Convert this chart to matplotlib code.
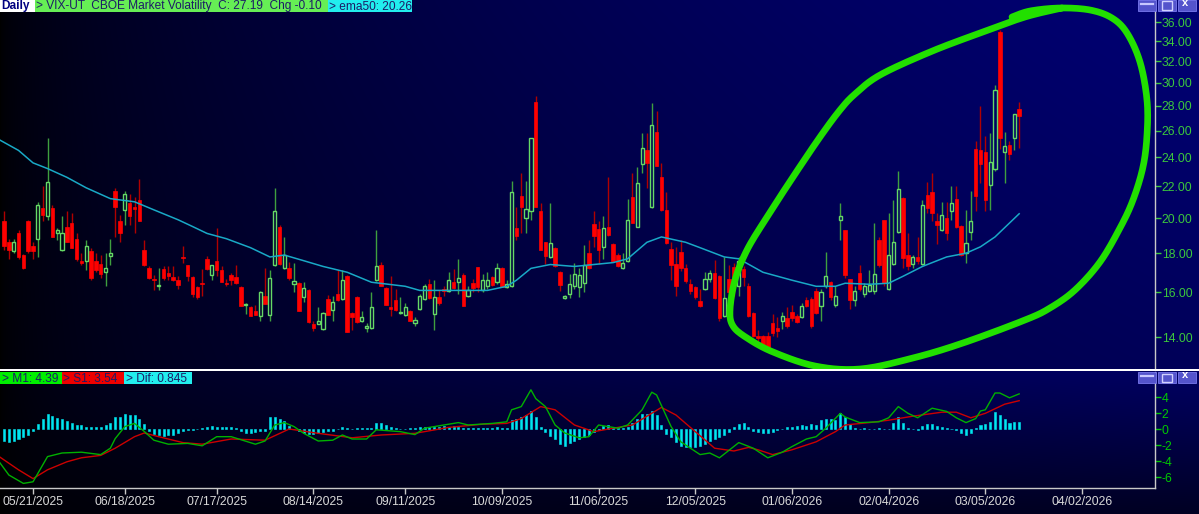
import matplotlib.pyplot as plt
import numpy as np
from matplotlib.patches import Rectangle
from matplotlib.ticker import FixedLocator, NullLocator

plt.rcParams["font.family"] = ["Liberation Sans", "DejaVu Sans"]

# ---- data: daily VIX candles, bar index 0 = 05/21/2025 (trading days) ----
FIRST_BAR = -6
OPEN = [
    19.8, 18.6, 18.1, 19.1, 17.9, 19.8, 18.4, 18.8, 20.6, 20.1,
    20.6, 19.15, 18.2, 19.5, 19.7, 18.8, 17.6, 17.6, 18.1, 17.6,
    17.45, 17.0, 17.85, 21.7, 19.8, 20.5, 20.9, 20.65, 21.1, 18.2,
    17.2, 16.65, 16.3, 17.15, 16.95, 16.75, 16.6, 17.8, 17.4, 16.75,
    16.25, 16.45, 17.7, 16.85, 17.6, 17.1, 16.45, 16.85, 16.75, 16.25,
    15.4, 15.3, 15.15, 14.9, 15.85, 14.95, 17.35, 19.5, 17.2, 17.2,
    16.4, 16.45, 15.8, 16.1, 14.55, 14.55, 14.35, 15.7, 15.2, 15.95,
    15.7, 16.8, 15.05, 15.8, 14.7, 14.4, 14.4, 16.6, 17.4, 16.2,
    15.3, 15.65, 15.05, 14.95, 15.15, 14.6, 15.25, 15.7, 16.4, 15.0,
    15.8, 16.15, 16.05, 16.5, 16.5, 16.85, 15.85, 16.45, 17.25, 16.1,
    16.3, 16.75, 16.5, 17.2, 16.25, 16.3, 19.4, 21.35, 20.0, 20.4,
    28.35, 20.45, 18.6, 17.8, 18.3, 17.0, 15.75, 15.95, 16.3, 16.25,
    16.45, 18.0, 19.65, 19.35, 18.35, 19.45, 18.5, 17.9, 17.2, 17.6,
    21.3, 19.5, 23.5, 24.5, 20.7, 25.9, 22.6, 20.5, 18.25, 17.45,
    18.05, 17.2, 16.4, 16.25, 15.6, 16.15, 16.65, 16.95, 16.8, 14.9,
    16.65, 17.25, 16.3, 17.15, 16.3, 15.05, 14.05, 14.05, 14.05, 14.6,
    14.4, 14.7, 14.8, 15.1, 14.9, 14.85, 15.65, 15.7, 16.05, 15.35,
    16.3, 16.5, 15.4, 19.9, 19.3, 16.65, 15.65, 16.95, 15.95, 16.05,
    16.05, 18.7, 19.9, 16.15, 17.45, 19.2, 21.25, 17.9, 17.45, 17.8,
    17.45, 21.45, 21.65, 19.8, 19.3, 20.0, 20.4, 21.2, 19.55, 18.0,
    19.2, 24.6, 24.55, 24.4, 22.1, 23.2, 34.9, 24.4, 24.9, 25.4,
    27.75,
]
HIGH = [
    20.4, 18.8, 18.8, 19.3, 17.95, 19.9, 18.6, 21.0, 22.0, 25.4,
    20.8, 19.4, 20.1, 20.4, 20.3, 19.1, 18.0, 18.7, 18.3, 18.0,
    17.9, 18.0, 18.8, 21.9, 20.2, 21.7, 21.5, 21.3, 22.5, 18.7,
    17.3, 16.85, 17.2, 17.3, 17.3, 17.3, 16.8, 18.4, 17.4, 16.8,
    16.3, 17.15, 17.85, 17.4, 19.4, 17.3, 16.65, 16.95, 17.4, 16.3,
    15.5, 15.35, 15.4, 16.05, 17.2, 17.1, 21.9, 19.6, 18.9, 17.55,
    17.5, 16.5, 16.5, 16.15, 14.7, 15.3, 15.1, 15.9, 15.85, 17.1,
    17.1, 16.85, 15.1, 15.85, 15.15, 14.6, 16.0, 19.3, 17.55, 16.25,
    16.8, 16.15, 15.8, 15.5, 15.2, 14.85, 15.95, 16.4, 16.65, 16.6,
    16.1, 16.3, 17.0, 17.15, 17.7, 16.95, 16.3, 16.65, 17.25, 16.9,
    17.0, 16.8, 17.5, 17.25, 16.6, 22.35, 20.7, 22.9, 22.35, 25.45,
    28.85, 20.9, 18.6, 20.9, 18.35, 17.05, 15.9, 16.9, 17.5, 17.2,
    18.45, 18.7, 20.4, 19.85, 20.1, 22.6, 18.55, 18.0, 18.0, 21.2,
    22.9, 23.3, 25.8, 25.8, 28.2, 27.6, 23.6, 21.6, 18.6, 18.35,
    18.7, 17.45, 16.65, 16.3, 16.15, 17.0, 17.1, 17.65, 16.85, 17.8,
    17.35, 17.5, 17.8, 17.3, 16.45, 15.1, 14.3, 14.1, 14.2, 15.0,
    14.85, 15.1, 15.3, 15.4, 15.0, 15.5, 15.8, 15.8, 16.2, 16.15,
    18.05, 16.55, 16.3, 20.95, 19.3, 16.65, 16.3, 17.35, 16.45, 17.1,
    19.7, 18.9, 19.9, 20.3, 21.1, 23.0, 21.3, 19.1, 17.9, 18.9,
    21.1, 22.3, 22.9, 20.3, 21.0, 21.0, 22.0, 22.0, 19.6, 20.5,
    21.7, 25.2, 28.0, 25.6, 25.8, 29.8, 35.2, 25.9, 25.2, 27.35,
    28.3,
]
LOW = [
    18.2, 17.7, 18.0, 17.7, 17.15, 18.0, 17.7, 17.8, 19.8, 19.9,
    18.9, 18.7, 18.1, 18.6, 18.3, 17.6, 17.4, 17.1, 16.6, 17.0,
    16.7, 16.3, 17.4, 18.9, 18.6, 19.6, 19.6, 19.1, 19.8, 17.3,
    16.65, 16.1, 16.1, 16.6, 16.6, 16.55, 16.15, 17.5, 16.55, 15.8,
    15.7, 15.85, 17.1, 16.6, 16.8, 16.5, 16.3, 16.35, 16.4, 15.35,
    15.0, 14.9, 14.95, 14.7, 15.45, 14.7, 17.3, 17.4, 17.15, 16.6,
    16.0, 15.15, 15.55, 14.6, 14.25, 14.55, 14.3, 14.95, 14.7, 15.6,
    15.65, 14.2, 14.3, 14.6, 14.65, 14.2, 14.35, 16.55, 16.3, 15.4,
    14.9, 15.15, 15.0, 14.9, 14.7, 14.45, 15.2, 15.65, 15.7, 14.3,
    15.4, 15.85, 16.0, 16.15, 15.95, 15.35, 15.8, 16.0, 16.0, 16.0,
    16.15, 16.3, 16.4, 16.25, 16.2, 16.25, 18.7, 19.1, 19.15, 19.9,
    20.7, 18.2, 17.45, 17.75, 17.25, 16.05, 15.7, 15.75, 16.15, 15.8,
    16.0, 17.15, 18.35, 17.45, 17.7, 18.95, 17.55, 17.25, 17.15, 17.55,
    19.7, 19.45, 22.9, 21.9, 20.6, 23.35, 20.45, 18.5, 16.6, 15.85,
    17.05, 16.45, 15.95, 15.7, 15.3, 16.1, 16.5, 15.7, 14.7, 14.85,
    15.8, 15.85, 15.85, 16.3, 14.85, 14.0, 13.85, 13.45, 13.55, 14.05,
    14.0, 14.35, 14.4, 14.7, 14.6, 14.8, 15.3, 14.4, 15.0, 14.7,
    16.2, 15.65, 15.3, 18.7, 16.7, 15.25, 15.35, 16.05, 15.8, 16.0,
    15.95, 17.25, 16.3, 16.1, 17.35, 19.1, 17.2, 17.1, 17.2, 17.45,
    17.35, 20.3, 19.8, 18.5, 19.25, 18.7, 19.9, 19.4, 17.85, 17.5,
    18.7, 20.4, 22.2, 20.4, 20.5, 23.0, 24.6, 22.2, 23.8, 24.55,
    24.7,
]
CLOSE = [
    18.4, 18.2, 18.6, 17.8, 17.2, 18.1, 18.1, 20.8, 20.2, 22.3,
    18.9, 19.3, 19.1, 18.6, 18.3, 17.7, 17.5, 18.4, 16.7, 17.1,
    16.9, 17.2, 18.0, 20.7, 19.1, 21.5, 20.1, 20.55, 19.8, 17.4,
    16.7, 16.6, 16.35, 16.7, 16.8, 16.6, 16.35, 17.75, 16.8, 15.95,
    15.8, 16.4, 17.15, 17.35, 17.1, 16.5, 16.4, 16.6, 16.45, 15.35,
    15.45, 14.9, 14.95, 16.0, 15.45, 16.7, 20.4, 17.45, 17.9, 16.7,
    16.55, 15.15, 16.2, 14.65, 14.4, 14.7, 15.05, 14.95, 15.55, 15.65,
    16.6, 14.2, 14.85, 14.65, 14.85, 14.45, 15.3, 17.3, 16.3, 15.4,
    15.25, 15.2, 15.1, 15.3, 14.7, 14.75, 15.85, 16.3, 15.75, 15.8,
    15.5, 16.05, 16.6, 16.2, 16.7, 15.35, 16.1, 16.2, 16.25, 16.6,
    16.6, 16.35, 17.2, 16.25, 16.4, 21.6, 18.95, 20.7, 20.55, 25.4,
    20.7, 18.2, 17.85, 18.55, 17.3, 16.35, 15.85, 16.4, 16.9, 16.85,
    17.4, 17.2, 18.95, 18.15, 19.4, 19.0, 17.6, 17.3, 17.5, 19.9,
    19.7, 22.2, 24.7, 23.6, 26.4, 23.4, 20.5, 18.55, 17.4, 16.3,
    17.2, 16.55, 16.05, 15.8, 15.35, 16.65, 16.95, 15.75, 14.8, 15.75,
    16.0, 16.45, 17.6, 16.75, 14.9, 14.05, 13.95, 13.55, 13.6, 14.15,
    14.25, 14.9, 14.45, 14.8, 14.65, 15.35, 15.35, 14.45, 15.05, 16.0,
    16.8, 15.8, 15.85, 20.1, 16.85, 15.65, 16.05, 16.15, 16.3, 16.35,
    16.9, 17.35, 16.45, 17.9, 18.6, 21.8, 17.75, 17.3, 17.8, 17.6,
    20.8, 20.6, 20.3, 19.6, 20.2, 19.1, 20.95, 19.5, 17.9, 18.55,
    19.85, 21.4, 23.5, 21.1, 23.65, 29.4, 25.4, 24.85, 24.2, 27.29,
    27.19,
]

# 50-day EMA at these bars
EMA_BARS = [-7, -3, 0, 3, 7, 11, 16, 21, 25, 30, 33, 36, 40, 45, 49, 52, 56,
            60, 65, 70, 77, 80, 86, 94, 98, 100, 103, 107, 112, 116, 120, 123,
            127, 130, 135, 138, 143, 146, 151, 157, 162, 166, 168, 173, 177,
            180, 184, 189, 193, 196, 199, 204]
EMA_VALUES = [25.3, 24.5, 23.6, 23.2, 22.6, 21.9, 21.2, 21.0, 20.5, 19.9, 19.5,
              19.1, 18.8, 18.3, 17.8, 17.9, 17.6, 17.3, 17.0, 16.5, 16.3, 16.1,
              16.1, 16.1, 16.3, 16.6, 17.2, 17.4, 17.3, 17.4, 17.5, 17.7, 18.6,
              18.9, 18.6, 18.3, 17.8, 17.7, 17.0, 16.6, 16.3, 16.3, 16.45, 16.4,
              16.45, 16.8, 17.3, 17.8, 18.0, 18.35, 18.9, 20.26]

# oscillator panel: M1 (fast) and S1 (signal), read at these bars
M1_BARS = [-7, -5, -2, 0, 3, 6, 10, 14, 16, 17, 19, 21, 23, 25, 28, 32, 35,
           38, 41, 46, 48, 50, 52, 54, 56, 59, 62, 64, 66, 69, 71, 76, 79, 81,
           86, 88, 90, 95, 98, 99, 101, 103, 104, 106, 108, 110, 113, 115,
           117, 121, 123, 126, 128, 129, 132, 134, 138, 140, 142, 146, 149,
           152, 155, 157, 160, 162, 164, 167, 168, 171, 175, 177, 179, 181,
           183, 186, 189, 191, 193, 195, 196, 197, 199, 200, 202, 204]
M1_VALUES = [-4.1, -5.75, -6.8, -6.6, -3.45, -3.0, -2.9, -3.2, -2.4, -1.2,
             0.3, 0.7, -0.3, -1.4, -1.9, -1.8, -2.1, -0.96, -0.96, -1.9, -1.5,
             0.5, 0.8, 0.3, -0.54, -1.5, -1.4, -0.75, -1.25, -1.25, -0.1,
             -0.33, -0.7, 0.1, 0.6, 0.8, 0.5, 0.7, 0.9, 2.4, 2.8, 4.9, 3.8,
             2.8, 0.5, -0.5, -1.1, -0.96, 0.5, 0.1, 0.5, 2.4, 4.6, 4.25, 0.3,
             -1.6, -3.2, -3.0, -3.6, -1.7, -2.4, -3.6, -2.9, -2.2, -1.25,
             -0.96, 0.1, 1.96, 1.5, 0.8, 0.9, 1.4, 2.8, 1.96, 1.4, 2.6, 2.2,
             1.4, 0.8, 1.3, 2.25, 2.4, 4.5, 4.5, 3.9, 4.39]
S1_BARS = [-7, -3, 0, 3, 7, 10, 14, 17, 21, 23, 26, 31, 35, 41, 48, 53, 59,
           66, 72, 79, 86, 93, 98, 101, 105, 108, 112, 116, 120, 124, 130,
           133, 137, 141, 145, 148, 150, 153, 157, 162, 166, 168, 173, 177,
           182, 188, 191, 194, 197, 201, 204]
S1_VALUES = [-3.45, -5.1, -6.2, -5.1, -4.1, -3.6, -3.3, -2.4, -0.96, -0.5,
             -0.96, -1.7, -1.9, -1.25, -1.4, 0.0, -0.54, -1.1, -0.75, -0.54,
             0.2, 0.6, 0.7, 1.3, 2.8, 2.4, 0.5, -0.33, 0.1, 0.5, 2.7, 1.75,
             -0.33, -2.4, -2.75, -2.3, -2.6, -3.2, -2.6, -1.6, -0.33, 0.5, 0.8,
             1.1, 1.6, 2.1, 2.1, 1.4, 1.96, 3.1, 3.54]
# Dif histogram, one value per candle
HIST = [
    -1.5, -1.6, -1.5, -1.3, -1.0, -0.7, -0.3, 0.6, 1.2, 1.9,
    1.6, 1.4, 1.3, 1.0, 0.7, 0.5, 0.5, 0.3, 0.2, 0.2,
    0.3, 0.5, 0.7, 1.5, 1.5, 1.9, 1.8, 1.7, 1.3, 0.6,
    -0.3, -0.6, -0.8, -0.9, -0.8, -0.7, -0.5, -0.3, -0.1, -0.1,
    0.05, 0.1, 0.2, 0.4, 0.3, 0.3, 0.2, 0.2, 0.1, -0.3,
    -0.5, -0.5, -0.4, -0.3, -0.2, 1.5, 1.5, 1.3, 1.0, 0.4,
    0.0, -0.3, -0.5, -0.6, -0.6, -0.5, -0.4, -0.3, -0.2, 0.0,
    0.3, 0.1, 0.05, 0.1, 0.1, 0.1, 0.1, 0.7, 0.7, 0.5,
    0.3, 0.1, 0.05, 0.05, 0.1, 0.1, 0.2, 0.3, 0.3, 0.2,
    0.3, 0.4, 0.3, 0.4, 0.3, 0.1, 0.1, 0.1, 0.1, 0.1,
    0.1, 0.1, 0.2, 0.1, 0.1, 1.1, 1.25, 1.5, 1.7, 2.3,
    1.5, 0.3, -0.4, -0.9, -1.3, -1.9, -2.1, -1.75, -1.5, -1.3,
    -1.0, -0.8, -0.4, -0.1, 0.4, 0.45, 0.3, 0.1, 0.1, 0.3,
    0.75, 1.25, 1.9, 1.9, 2.3, 1.7, 0.5, -0.6, -1.0, -1.6,
    -2.1, -2.3, -2.3, -2.3, -2.1, -1.9, -1.5, -1.2, -1.0, -0.8,
    -0.4, 0.2, 0.6, 0.75, 0.2, -0.2, -0.4, -0.5, -0.5, -0.4,
    -0.1, 0.05, 0.2, 0.3, 0.35, 0.5, 0.4, 0.6, 0.5, 1.1,
    1.3, 1.2, 1.1, 1.96, 1.5, 0.6, 0.1, 0.05, 0.1, 0.05,
    0.05, 0.1, 0.05, 0.05, 0.7, 1.5, 0.7, 0.1, 0.05, -0.1,
    0.4, 0.6, 0.6, 0.4, 0.3, 0.15, 0.05, -0.1, -0.5, -0.75,
    -0.5, 0.1, 0.5, 0.6, 0.9, 2.1, 1.75, 1.25, 0.7, 0.9,
    0.85,
]

DATE_BARS = [0, 19, 38, 58, 77, 97, 117, 137, 157, 177, 197, 217]
DATE_LABELS = ["05/21/2025", "06/18/2025", "07/17/2025", "08/14/2025",
               "09/11/2025", "10/09/2025", "11/06/2025", "12/05/2025",
               "01/06/2026", "02/04/2026", "03/05/2026", "04/02/2026"]
PRICE_TICKS = list(range(14, 37, 2))
OSC_TICKS = [4, 2, 0, -2, -4, -6]

# hand-drawn highlight loop, in pixels of the price pane (x, y from top-left)
LOOP_PX = [(1012, 17), (1030, 11), (1060, 8), (1090, 10), (1112, 18),
           (1127, 33), (1140, 62), (1147, 100), (1147, 135), (1143, 167),
           (1133, 200), (1120, 228), (1100, 262), (1075, 290), (1050, 308),
           (1025, 320), (963, 343), (913, 358), (860, 369), (815, 366),
           (773, 352), (747, 338), (733, 326), (730, 310), (735, 280),
           (747, 250), (767, 217), (793, 177), (820, 137), (840, 110),
           (855, 94), (880, 75), (930, 52), (980, 33), (1025, 17), (1062, 8)]

W, H = 1199, 514
PANE_R = 1155
TOP_B = 369
LOW_T, LOW_B = 372, 488
XMIN, XMAX = -6.83, 232.1

GREEN_TXT = "#3cc83c"
NAVY_TXT = "#1c1c66"


def fx(px):
    return px / W


def fy(py):
    return 1 - py / H


def catmull(pts, n=14):
    p = np.asarray(pts, float)
    p = np.vstack([p[0], p, p[-1]])
    out = []
    t = np.linspace(0, 1, n, endpoint=False)[:, None]
    for i in range(1, len(p) - 2):
        p0, p1, p2, p3 = p[i - 1], p[i], p[i + 1], p[i + 2]
        out.append(0.5 * (2 * p1 + (-p0 + p2) * t
                          + (2 * p0 - 5 * p1 + 4 * p2 - p3) * t ** 2
                          + (-p0 + 3 * p1 - 3 * p2 + p3) * t ** 3))
    out.append(p[-2][None])
    return np.vstack(out)


fig = plt.figure(figsize=(W / 100, H / 100), dpi=100)

# background gradient (black on the left to navy on the right)
yy, xx = np.mgrid[0:H, 0:W]
xf = xx / W
blue = np.where(
    yy < 370,
    118 * xf ** 0.5 * (1 - 0.25 * yy / 370),
    100 * xf ** 0.5 * (1 - 0.65 * (yy - 370) / 144),
)
img = np.zeros((H, W, 3))
img[..., 2] = np.clip(blue, 0, 255) / 255
bg = fig.add_axes([0, 0, 1, 1])
bg.imshow(img, aspect="auto", extent=(0, W, H, 0), interpolation="bilinear")
bg.axis("off")
bg.set_zorder(-5)

# ---------------- price pane ----------------
ax = fig.add_axes([0, fy(TOP_B), fx(PANE_R), TOP_B / H])
ax.set_facecolor("none")
x = np.arange(len(OPEN)) + FIRST_BAR
o, h, l, c = (np.array(v, float) for v in (OPEN, HIGH, LOW, CLOSE))
up = c > o
top = np.maximum(o, c)
bot = np.minimum(o, c)

dn = ~up
ax.vlines(x[dn], l[dn], h[dn], color="#b00000", lw=1.0, zorder=2)
ax.vlines(x[up], top[up], h[up], color="#3f9f3f", lw=1.0, zorder=2)
ax.vlines(x[up], l[up], bot[up], color="#3f9f3f", lw=1.0, zorder=2)
ax.bar(x[dn], (top - bot)[dn], bottom=bot[dn], width=0.72, color="#ff0000",
       edgecolor="#ff0000", linewidth=0.5, zorder=3)
ax.bar(x[up], (top - bot)[up], bottom=bot[up], width=0.66, facecolor="none",
       edgecolor="#66d966", linewidth=1.0, zorder=3)

ax.plot(EMA_BARS, EMA_VALUES, color="#19a9c6", lw=1.1, zorder=4)

ax.set_yscale("log")
ax.set_ylim(12.72, 38.46)
ax.set_xlim(XMIN, XMAX)
ax.yaxis.set_major_locator(FixedLocator(PRICE_TICKS))
ax.yaxis.set_minor_locator(NullLocator())
ax.set_yticklabels([f"{v:.2f}" for v in PRICE_TICKS])
ax.yaxis.tick_right()
ax.tick_params(axis="y", which="major", direction="out", length=4.3, width=1,
               color=GREEN_TXT, labelcolor=GREEN_TXT, labelsize=8.8, pad=0.5)
ax.tick_params(axis="y", which="minor", length=0)
ax.set_xticks([])
for s in ("top", "left", "bottom"):
    ax.spines[s].set_visible(False)
ax.spines["right"].set_color("#c8c8c8")
ax.spines["right"].set_linewidth(1)

loop = catmull(LOOP_PX)
ax.plot(loop[:, 0] / PANE_R, 1 - loop[:, 1] / TOP_B, transform=ax.transAxes,
        color="#22e000", lw=4.8, solid_capstyle="round",
        solid_joinstyle="round", zorder=6, clip_on=True)

# ---------------- oscillator pane ----------------
ax2 = fig.add_axes([0, fy(LOW_B), fx(PANE_R), (LOW_B - LOW_T) / H])
ax2.set_facecolor("none")
ax2.bar(x, HIST, width=0.42, color="#00e6f0", edgecolor="#00e6f0",
        linewidth=0.4, zorder=2)
ax2.plot(S1_BARS, S1_VALUES, color="#cc0000", lw=1.0, zorder=3)
ax2.plot(M1_BARS, M1_VALUES, color="#00b000", lw=1.0, zorder=4)
ax2.set_xlim(XMIN, XMAX)
ax2.set_ylim(-7.375, 7.125)
ax2.yaxis.tick_right()
ax2.set_yticks(OSC_TICKS)
ax2.set_yticklabels([str(v) for v in OSC_TICKS])
ax2.tick_params(axis="y", direction="out", length=4.3, width=1,
                color="#00c800", labelcolor="#00c800", labelsize=8.8, pad=0.5)
ax2.set_xticks(DATE_BARS)
ax2.set_xticklabels(DATE_LABELS)
ax2.tick_params(axis="x", direction="out", length=4.6, width=1,
                color="#c8c8c8", labelcolor="#d8d8d8", labelsize=8.8, pad=1.5)
for s in ("top", "left"):
    ax2.spines[s].set_visible(False)
for s in ("right", "bottom"):
    ax2.spines[s].set_color("#c8c8c8")
    ax2.spines[s].set_linewidth(1)

# ---------------- chrome: separator, legends, window buttons ----------------
fig.add_artist(Rectangle((0, fy(371)), 1, 2.2 / H, transform=fig.transFigure,
                         facecolor="white", edgecolor="none", zorder=10))


def box(x0, x1, y0, y1, color, text, tcolor=NAVY_TXT, bold=False):
    fig.add_artist(Rectangle((fx(x0), fy(y1)), fx(x1 - x0), (y1 - y0) / H,
                             transform=fig.transFigure, facecolor=color,
                             edgecolor="none", zorder=11))
    fig.text(fx(x0 + 1.5), fy((y0 + y1) / 2 + 0.5), text, color=tcolor,
             fontsize=8.6, va="center", ha="left", zorder=12,
             fontweight="bold" if bold else "normal")


box(0, 35, 0, 12, "#ffffff", "Daily", tcolor="#000080", bold=True)
box(35, 328, 0, 12, "#66ee55", "> VIX-UT  CBOE Market Volatility  C: 27.19  Chg -0.10")
box(328, 412, 0, 12, "#22eeee", "> ema50: 20.26")
box(0, 62, 372, 384, "#00ee00", "> M1: 4.39")
box(62, 124, 372, 384, "#ee0000", "> S1: 3.54")
box(124, 192, 372, 384, "#22eeee", "> Dif: 0.845")


def buttons(y0):
    for i, x0 in enumerate((1138, 1158, 1178)):
        fig.add_artist(Rectangle((fx(x0), fy(y0 + 11)), fx(18), 11 / H,
                                 transform=fig.transFigure, facecolor="#5454cc",
                                 edgecolor="#7a7aee", lw=0.6, zorder=11))
        cx = x0 + 9
        if i == 0:
            fig.add_artist(plt.Line2D([fx(cx - 6), fx(cx + 6)],
                                      [fy(y0 + 3.5), fy(y0 + 3.5)],
                                      transform=fig.transFigure,
                                      color="#c8c8ff", lw=1.6, zorder=12))
        elif i == 1:
            fig.add_artist(Rectangle((fx(cx - 5), fy(y0 + 9.5)), fx(10), 8 / H,
                                     transform=fig.transFigure,
                                     facecolor="none", edgecolor="#d0d0ff",
                                     lw=1.0, zorder=12))
        else:
            fig.text(fx(cx - 2), fy(y0 + 3.5), "x", color="white",
                     fontsize=8, fontweight="bold", ha="center", va="center",
                     zorder=12)


buttons(0)
buttons(372)

fig.savefig("out.png", dpi=100, facecolor="black")
